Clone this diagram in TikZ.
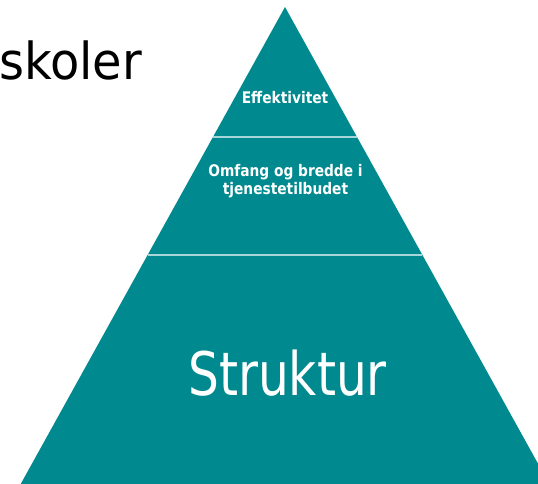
\documentclass[tikz,border=0pt]{standalone}
\usepackage{fontspec}
\setmainfont{DejaVu Sans}
\newfontfamily\lblfont[FakeStretch=0.86]{DejaVu Sans}
\newfontfamily\bigfont[FakeStretch=0.81]{DejaVu Sans}
\newfontfamily\titlefont[FakeStretch=0.94]{DejaVu Sans}
\definecolor{pyrteal}{RGB}{0,138,144}
\begin{document}
\begin{tikzpicture}[x=1pt,y=-1pt,
  tier/.style={fill=pyrteal,draw=none},
  divider/.style={draw=white,draw opacity=0.65,line width=1.4pt},
  smalllbl/.style={text=white,inner sep=0pt,align=center,font=\lblfont\bfseries\fontsize{16}{18}\selectfont},
  biglbl/.style={text=white,inner sep=0pt,font=\bigfont\fontsize{60}{60}\selectfont},
  titlelbl/.style={text=black,inner sep=0pt,font=\titlefont\fontsize{51}{51}\selectfont}]
\useasboundingbox (0,0) rectangle (538,484);
\clip (0,0) rectangle (538,484);
\coordinate (apex) at (285,7);
\coordinate (bl) at (20.7,484);
\coordinate (br) at (549.3,484);
\coordinate (d1l) at (213,137);
\coordinate (d1r) at (357,137);
\coordinate (d2l) at (147.6,255);
\coordinate (d2r) at (422.4,255);
\path[tier] (apex) -- (br) -- (bl) -- cycle;
\draw[divider] (d1l) -- (d1r);
\draw[divider] (d2l) -- (d2r);
\node[smalllbl,anchor=base] (eff) at (285,104) {Effektivitet};
\node[smalllbl,anchor=base] (omf) at (285.5,194) {Omfang og bredde i\\tjenestetilbudet};
\node[biglbl,anchor=base] (str) at (287.5,395) {Struktur};
\node[titlelbl,anchor=base west] (sko) at (-1,80) {skoler};
\end{tikzpicture}
\end{document}
